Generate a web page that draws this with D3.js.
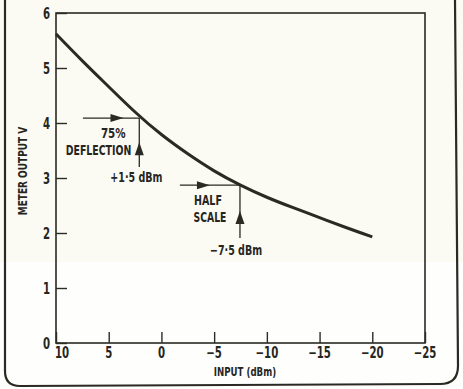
<!DOCTYPE html>
<meta charset='utf-8'>
<style>
    html, body {
        margin: 0;
        background: #fbfbf4;
    }

    svg text {
        font-family: 'DejaVu Sans', sans-serif;
        font-weight: bold;
        fill: #26261f;
    }

    .axis line, .axis path {
        stroke: #2c2c24;
    }
</style>
<title>Meter output vs input</title>
<body>
<script src='https://d3js.org/d3.v7.min.js'></script>
<script>

	// curve: input dBm -> meter output V
	let inputDbm = [10, 7.5, 5, 2.5, 0, -2.5, -5, -7.5, -10, -12.5, -15, -17.5, -20];
	let meterV = [5.62, 5.13, 4.66, 4.20, 3.79, 3.44, 3.13, 2.87, 2.65, 2.46, 2.28, 2.10, 1.93];

	let xTicks = [10, 5, 0, -5, -10, -15, -20, -25];
	let yTicks = [0, 1, 2, 3, 4, 5, 6];

	// marked points: where the arrows meet the curve
	let markX = [2.1, -7.45];
	let markY = [4.09, 2.87];
	let arrowFromX = [7.45, -1.75];
	let arrowTipX = [3.6, -4.6];
	let arrowFromY = [3.2, 1.91];
	let arrowTipY = [3.65, 2.4];
	let markLabels = [['75%', 'DEFLECTION', '+1\u00b75 dBm'], ['HALF', 'SCALE', '\u22127\u00b75 dBm']];

	let width = 463, height = 389;
	let ink = '#2a2a22';

	let x = d3.scaleLinear().domain([10, -25]).range([56, 425]);
	let y = d3.scaleLinear().domain([0, 6]).range([343, 13]);

	let svg = d3.select('body').append('svg')
		.attr('width', width)
		.attr('height', height);

	// condensed lettering: squeeze DejaVu horizontally
	function label(parent, px, py, str, size, anchor, sx) {
		return parent.append('text')
			.attr('transform', 'translate(' + px + ',' + py + ') scale(' + sx + ',1)')
			.attr('text-anchor', anchor)
			.attr('font-size', size)
			.text(str);
	}

	// scan tone: the lower band of the page is paler
	svg.append('rect')
		.attr('x', 0).attr('y', 262)
		.attr('width', width).attr('height', height - 262)
		.attr('fill', '#fefefd');

	// rounded page border (left, bottom, right)
	svg.append('path')
		.attr('d', 'M5,0 L5,371 Q5,386 20,386 L440,384 Q458,384 458,366 L455,0')
		.attr('fill', 'none')
		.attr('stroke', ink)
		.attr('stroke-width', 2.2);

	// plot frame
	svg.append('rect')
		.attr('x', x(10)).attr('y', y(6))
		.attr('width', x(-25) - x(10)).attr('height', y(0) - y(6))
		.attr('fill', 'none')
		.attr('stroke', ink)
		.attr('stroke-width', 1.6);

	// inner ticks
	svg.append('g')
		.attr('class', 'axis')
		.attr('transform', 'translate(0,' + y(0) + ')')
		.call(d3.axisBottom(x).tickValues(xTicks).tickSize(-11).tickFormat(''))
		.call(g => g.select('.domain').remove())
		.selectAll('line').attr('stroke-width', 1.4);

	svg.append('g')
		.attr('class', 'axis')
		.attr('transform', 'translate(' + x(10) + ',0)')
		.call(d3.axisLeft(y).tickValues(yTicks).tickSize(-11).tickFormat(''))
		.call(g => g.select('.domain').remove())
		.selectAll('line').attr('stroke-width', 1.4);

	// tick labels
	let tl = svg.append('g');
	xTicks.forEach(function (d) {
		label(tl, x(d) + (d === 10 ? 6 : 0), 358, d < 0 ? '\u2212' + (-d) : String(d), 15, 'middle', 0.68);
	});
	yTicks.forEach(function (d) {
		label(tl, 50, y(d) + 6, String(d), 15, 'end', 0.68);
	});

	// axis titles
	label(svg, 245, 376, 'INPUT (dBm)', 12, 'middle', 0.72);
	svg.append('text')
		.attr('transform', 'translate(27,171) rotate(-90) scale(0.72,1)')
		.attr('text-anchor', 'middle')
		.attr('font-size', 12.5)
		.text('METER OUTPUT  V');

	// the curve
	let pts = inputDbm.map(function (d, i) { return [d, meterV[i]]; });
	svg.append('path')
		.datum(pts)
		.attr('d', d3.line()
			.x(function (d) { return x(d[0]); })
			.y(function (d) { return y(d[1]); })
			.curve(d3.curveNatural))
		.attr('fill', 'none')
		.attr('stroke', ink)
		.attr('stroke-width', 3);

	// arrows to the marked points
	markX.forEach(function (mx, i) {
		let px = x(mx), py = y(markY[i]);
		let g = svg.append('g');

		g.append('line')
			.attr('x1', x(arrowFromX[i])).attr('y1', py)
			.attr('x2', px).attr('y2', py)
			.attr('stroke', ink).attr('stroke-width', 1.3);
		g.append('line')
			.attr('x1', px).attr('y1', y(arrowFromY[i]))
			.attr('x2', px).attr('y2', py)
			.attr('stroke', ink).attr('stroke-width', 1.3);

		let hx = x(arrowTipX[i]);
		g.append('path')
			.attr('d', 'M' + hx + ',' + py + 'L' + (hx - 13) + ',' + (py - 4) + 'L' + (hx - 13) + ',' + (py + 4) + 'Z')
			.attr('fill', ink);
		let hy = y(arrowTipY[i]);
		g.append('path')
			.attr('d', 'M' + px + ',' + hy + 'L' + (px - 4.5) + ',' + (hy + 13) + 'L' + (px + 4.5) + ',' + (hy + 13) + 'Z')
			.attr('fill', ink);

		let lab = markLabels[i];
		if (i === 0) {
			label(g, px - 26, py + 20, lab[0], 14, 'middle', 0.74);
			label(g, px - 8, py + 37, lab[1], 14, 'end', 0.67);
			label(g, px - 29, py + 64, lab[2], 14, 'start', 0.68);
		} else {
			label(g, px - 32, py + 20, lab[0], 14, 'middle', 0.68);
			label(g, px - 30, py + 37, lab[1], 14, 'middle', 0.66);
			label(g, px - 30, py + 70, lab[2], 14, 'start', 0.68);
		}
	});

</script>
</body>
